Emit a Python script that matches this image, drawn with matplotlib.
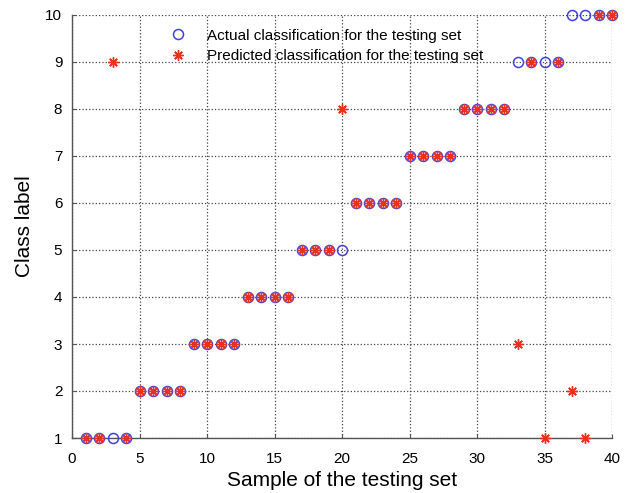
import matplotlib
matplotlib.use("Agg")
import matplotlib.pyplot as plt

plt.rcParams['font.family'] = ['Liberation Sans', 'DejaVu Sans']

samples = list(range(1, 41))
actual = [1, 1, 1, 1, 2, 2, 2, 2, 3, 3, 3, 3, 4, 4, 4, 4, 5, 5, 5, 5,
          6, 6, 6, 6, 7, 7, 7, 7, 8, 8, 8, 8, 9, 9, 9, 9, 10, 10, 10, 10]
predicted = [1, 1, 9, 1, 2, 2, 2, 2, 3, 3, 3, 3, 4, 4, 4, 4, 5, 5, 5, 8,
             6, 6, 6, 6, 7, 7, 7, 7, 8, 8, 8, 8, 3, 9, 1, 9, 2, 1, 10, 10]
xticks = [0, 5, 10, 15, 20, 25, 30, 35, 40]
yticks = [1, 2, 3, 4, 5, 6, 7, 8, 9, 10]

fig = plt.figure(figsize=(6.29, 4.93), dpi=100)
ax = fig.add_axes([72/629, 55/493, 540/629, 423/493])

ax.plot(samples, actual, linestyle='none', marker='o', markersize=7.2,
        markerfacecolor='none', markeredgecolor='#4040e0', markeredgewidth=1.1,
        label='Actual classification for the testing set', clip_on=False, zorder=3)
ax.plot(samples, predicted, linestyle='none', marker=(8, 2, 0), markersize=7.5,
        markeredgecolor='#e8321e', markerfacecolor='#e8321e', markeredgewidth=1.0,
        label='Predicted classification for the testing set', clip_on=False, zorder=4)

ax.set_xlim(0, 40)
ax.set_ylim(1, 10)
ax.set_xticks(xticks)
ax.set_yticks(yticks)
ax.grid(True, linestyle=':', color='#444444', linewidth=0.9)
ax.set_axisbelow(True)
for s in ['top', 'right']:
    ax.spines[s].set_visible(False)
for s in ['left', 'bottom']:
    ax.spines[s].set_color('#555555')
    ax.spines[s].set_linewidth(1.0)
ax.tick_params(axis='both', direction='in', length=3, color='#555555', labelsize=11)
ax.tick_params(axis='x', pad=10)
ax.tick_params(axis='y', pad=7)
ax.set_xlabel('Sample of the testing set', fontsize=15, labelpad=4)
ax.set_ylabel('Class label', fontsize=15, labelpad=8)

leg = ax.legend(loc='upper left', bbox_to_anchor=(0.18, 0.968), frameon=False,
                fontsize=11, handletextpad=1.3, labelspacing=0.45, handlelength=1.2,
                borderaxespad=0, borderpad=0)

fig.savefig('out.png', dpi=100)
